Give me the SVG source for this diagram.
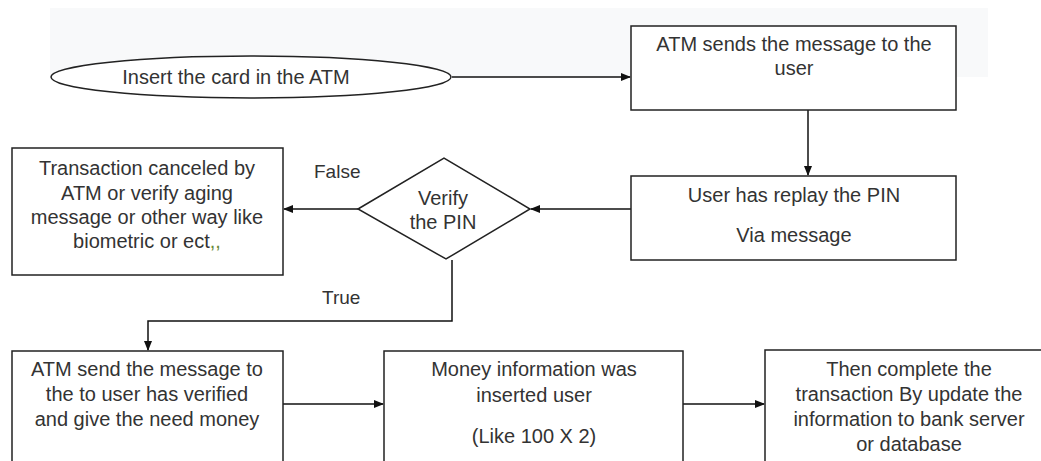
<svg xmlns="http://www.w3.org/2000/svg" width="1041" height="461" viewBox="0 0 1041 461">
<style>
.shape{fill:#fff;stroke:#222;stroke-width:1.5}
.t{font-family:"Liberation Sans",Arial,sans-serif;font-size:20px;fill:#333;text-anchor:middle}
.lbl{font-family:"Liberation Sans",Arial,sans-serif;font-size:19px;fill:#333}
.c{fill:none;stroke:#111;stroke-width:1.5}
</style>
<defs>
<marker id="ah" markerWidth="10" markerHeight="8" refX="9" refY="4" orient="auto" markerUnits="userSpaceOnUse">
<path d="M0,0 L10,4 L0,8 Z" fill="#111"/>
</marker>
</defs>
<rect x="0" y="0" width="1041" height="461" fill="#fff"/>
<rect x="50" y="8" width="938" height="69" fill="#f8f9fa"/>
<g id="connectors">
<path class="c" d="M452,77 L630,77" marker-end="url(#ah)"/>
<path class="c" d="M808,110 L808,175" marker-end="url(#ah)"/>
<path class="c" d="M631,209 L531,209" marker-end="url(#ah)"/>
<path class="c" d="M358,209 L284,209" marker-end="url(#ah)"/>
<path class="c" d="M452,260 L452,321 L148,321 L148,350" marker-end="url(#ah)"/>
<path class="c" d="M283,404 L383,404" marker-end="url(#ah)"/>
<path class="c" d="M683,404 L764,404" marker-end="url(#ah)"/>
<text class="lbl" x="314" y="178">False</text>
<text class="lbl" x="322" y="304">True</text>
</g>
<g id="start">
<ellipse class="shape" cx="251" cy="77" rx="200" ry="21"/>
<text class="t" x="236" y="84">Insert the card in the ATM</text>
</g>
<g id="send-message">
<rect class="shape" x="631" y="26" width="325" height="84"/>
<text class="t" x="794" y="51">ATM sends the message to the</text>
<text class="t" x="794" y="75">user</text>
</g>
<g id="reply-pin">
<rect class="shape" x="631" y="176" width="325" height="84"/>
<text class="t" x="794" y="202">User has replay the PIN</text>
<text class="t" x="794" y="242">Via message</text>
</g>
<g id="verify-pin">
<polygon class="shape" points="358,209 444,158 530,209 446,259"/>
<text class="t" x="443" y="205">Verify</text>
<text class="t" x="443" y="229">the PIN</text>
</g>
<g id="cancel">
<rect class="shape" x="12" y="148" width="271" height="127"/>
<text class="t" x="147" y="175">Transaction canceled by</text>
<text class="t" x="147" y="200">ATM or verify aging</text>
<text class="t" x="147" y="224">message or other way like</text>
<text class="t" x="147" y="248">biometric or ect<tspan fill="#6a8a3a">,,</tspan></text>
</g>
<g id="give-money">
<rect class="shape" x="12" y="351" width="271" height="130"/>
<text class="t" x="147" y="376">ATM send the message to</text>
<text class="t" x="147" y="401">the to user has verified</text>
<text class="t" x="147" y="426">and give the need money</text>
</g>
<g id="money-info">
<rect class="shape" x="384" y="351" width="299" height="130"/>
<text class="t" x="534" y="376">Money information was</text>
<text class="t" x="534" y="402">inserted user</text>
<text class="t" x="534" y="443">(Like 100 X 2)</text>
</g>
<g id="complete">
<rect class="shape" x="765" y="350" width="300" height="130"/>
<text class="t" x="909" y="376">Then complete the</text>
<text class="t" x="909" y="401">transaction By update the</text>
<text class="t" x="909" y="426">information to bank server</text>
<text class="t" x="909" y="451">or database</text>
</g>
</svg>
